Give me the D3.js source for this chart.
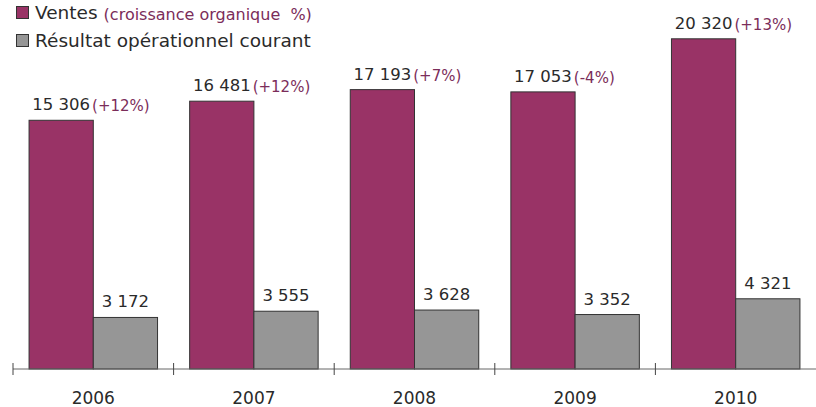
<!DOCTYPE html>
<html>
<head>
<meta charset="utf-8">
<script src="https://cdn.jsdelivr.net/npm/d3@7"></script>
<style>
  body { margin: 0; background: #fff; }
  text { font-family: "DejaVu Sans", sans-serif; white-space: pre; }
</style>
</head>
<body>
<div id="chart"></div>
<script>
const years = ['2006', '2007', '2008', '2009', '2010'];
const ventes = [15306, 16481, 17193, 17053, 20320];
const resultat = [3172, 3555, 3628, 3352, 4321];
const croissance = ['(+12%)', '(+12%)', '(+7%)', '(-4%)', '(+13%)'];
const seriesNames = ['Ventes', 'Résultat opérationnel courant'];
const legendNote = '(croissance organique  %)';

const width = 816, height = 407;
const colors = ['#993366', '#969696'];
const fmt = v => d3.format(',')(v).replace(/,/g, ' ');

const svg = d3.select('#chart').append('svg').attr('width', width).attr('height', height);

const x = d3.scaleBand().domain(years).range([13, 816]).paddingInner(0).paddingOuter(0);
const inner = d3.scaleBand().domain([0, 1]).range([0, x.bandwidth()]).paddingOuter(0.25);
const y = d3.scaleLinear().domain([0, 22000]).range([369, 11.5]);

// bars
const groups = svg.selectAll('g.year')
  .data(years.map((yr, i) => ({ yr, vals: [ventes[i], resultat[i]], growth: croissance[i] })))
  .enter().append('g')
  .attr('transform', d => `translate(${x(d.yr)},0)`);

groups.selectAll('rect')
  .data(d => d.vals.map((v, k) => ({ v, k })))
  .enter().append('rect')
  .attr('x', d => inner(d.k))
  .attr('y', d => y(d.v))
  .attr('width', inner.bandwidth())
  .attr('height', d => y(0) - y(d.v))
  .style('fill', d => colors[d.k])
  .style('stroke', '#333')
  .style('stroke-width', 1);

// value labels
groups.selectAll('text.val')
  .data(d => d.vals.map((v, k) => ({ v, k })))
  .enter().append('text')
  .attr('class', 'val')
  .attr('x', d => inner(d.k) + inner.bandwidth() / 2)
  .attr('y', d => y(d.v) - 10)
  .attr('text-anchor', 'middle')
  .style('font-size', '16.5px')
  .style('fill', '#2a2a2a')
  .text(d => fmt(d.v));

// growth labels, right after the sales value
groups.each(function (d) {
  const g = d3.select(this);
  const bb = g.select('text.val').node().getBBox();
  g.append('text')
    .attr('x', bb.x + bb.width + 2)
    .attr('y', y(d.vals[0]) - 9)
    .style('font-size', '15px')
    .style('fill', '#7b2d5a')
    .text(d.growth);
});

// axis
const axis = svg.append('g').attr('transform', `translate(0,${y(0)})`);
axis.append('line').attr('x1', 13).attr('x2', 816).style('stroke', '#666').style('stroke-width', 1);
axis.selectAll('line.tick')
  .data(years)
  .enter().append('line')
  .attr('x1', d => x(d)).attr('x2', d => x(d))
  .attr('y1', -6).attr('y2', 6)
  .style('stroke', '#444');
axis.selectAll('text')
  .data(years)
  .enter().append('text')
  .attr('x', d => x(d) + x.bandwidth() / 2)
  .attr('y', 35)
  .attr('text-anchor', 'middle')
  .style('font-size', '17px')
  .style('fill', '#2a2a2a')
  .text(d => d);

// legend
const legend = svg.append('g');
seriesNames.forEach((name, i) => {
  const ly = 6 + i * 28;
  legend.append('rect').attr('x', 16.5).attr('y', ly + 0.5).attr('width', 12).attr('height', 12)
    .style('fill', colors[i]).style('stroke', '#333');
  const t = legend.append('text').attr('x', 35).attr('y', ly + 12.5)
    .style('font-size', '18.5px').style('fill', '#2a2a2a').text(name);
  if (i === 0) {
    const bb = t.node().getBBox();
    legend.append('text').attr('x', bb.x + bb.width + 6).attr('y', ly + 14)
      .style('font-size', '16px').style('fill', '#7b2d5a').text(legendNote);
  }
});
</script>
</body>
</html>
